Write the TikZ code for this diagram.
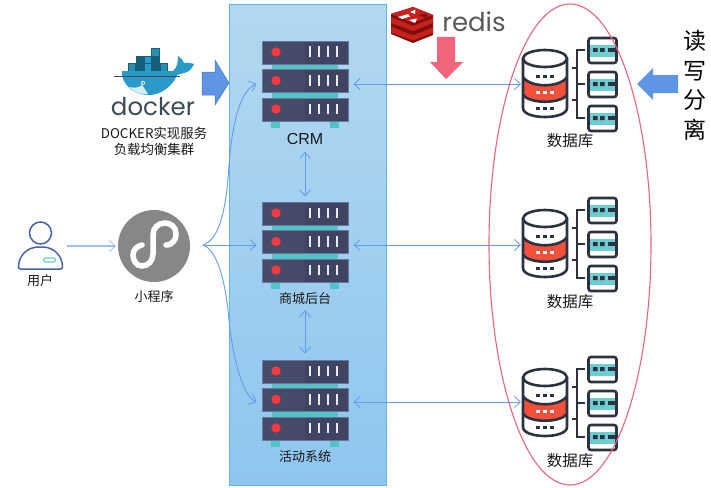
\documentclass[tikz,border=0pt]{standalone}
\usepackage{fontspec}
\setmainfont{Noto Sans CJK SC}
\newfontfamily\latinfont{Poppins}
\newfontfamily\uifont{Liberation Sans}
\usetikzlibrary{arrows.meta,shapes.geometric}
\definecolor{panelT}{HTML}{B2D8F1}
\definecolor{panelB}{HTML}{8FC6EE}
\definecolor{panelE}{HTML}{5CB6EC}
\definecolor{link}{HTML}{659BE8}
\definecolor{linkL}{HTML}{9DC0F2}
\definecolor{bigblue}{HTML}{5E95E4}
\definecolor{pinkred}{HTML}{F0647C}
\definecolor{ring}{HTML}{E9647F}
\definecolor{srvL}{HTML}{454B69}
\definecolor{srvR}{HTML}{3E4462}
\definecolor{srvE}{HTML}{66789C}
\definecolor{teal}{HTML}{50C4C8}
\definecolor{dotred}{HTML}{F23A40}
\definecolor{dbdark}{HTML}{2C3240}
\definecolor{dbred}{HTML}{F2503A}
\definecolor{dbteal}{HTML}{6CCDD3}
\definecolor{userc}{HTML}{4A62AE}
\definecolor{whale}{HTML}{2A9AC8}
\definecolor{whaleD}{HTML}{17607C}
\definecolor{whaleM}{HTML}{2B8DB0}
\definecolor{dockertxt}{HTML}{3C4C54}
\definecolor{redisr}{HTML}{C8201C}
\definecolor{redisd}{HTML}{7E100C}
\tikzset{
  x=1pt,y=-1pt,
  lbl/.style={inner sep=0pt,font=\fontsize{13}{16}\selectfont,text=black!90},
  conn/.style={draw=link,line width=.9pt,{Straight Barb[length=6pt,width=11pt,line width=.8pt]}-{Straight Barb[length=6pt,width=11pt,line width=.8pt]}},
  connone/.style={draw=link,line width=.9pt,-{Straight Barb[length=6pt,width=11pt,line width=.8pt]}},
  srvnode/.style={minimum width=87pt,minimum height=87pt,inner sep=0pt,outer sep=5pt},
  dbnode/.style={minimum width=46pt,minimum height=68pt,inner sep=0pt,outer sep=1pt},
  dbline/.style={draw=dbdark,line width=2.6pt},
  pics/server/.style={code={
    \fill[teal] (10,22) rectangle (76,29);
    \fill[teal] (10,51) rectangle (76,58);
    \fill[teal] (9,80) rectangle (18,87);
    \fill[teal] (68,80) rectangle (77,87);
    \foreach \yy in {0,28.5,57}{
      \fill[srvL] (0,\yy) rectangle (43,\yy+23);
      \fill[srvR] (43,\yy) rectangle (86.5,\yy+23);
      \draw[srvE,line width=.5pt] (0,\yy) rectangle (86.5,\yy+23);
      \fill[dotred] (14,\yy+11) circle (4.7);
      \foreach \xx in {48,57,66,75}{\fill[white!92!black] (\xx-1.4,\yy+5.5) rectangle (\xx+1.4,\yy+16);}
    }
  }},
  pics/database/.style={code={
    \fill[white] (1,21.5) -- (1,71) .. controls (1,83) and (45,83) .. (45,71) -- (45,21.5) -- cycle;
    \fill[dbred] (1,40) .. controls (8,51) and (38,51) .. (45,40) -- (45,58) .. controls (38,67) and (8,67) .. (1,58) -- cycle;
    \draw[dbline] (23,21.5) ellipse (22 and 8.5);
    \draw[dbline] (1,21.5) -- (1,71) .. controls (1,83) and (45,83) .. (45,71) -- (45,21.5);
    \draw[dbline] (1,40) .. controls (8,51) and (38,51) .. (45,40);
    \draw[dbline] (1,58) .. controls (8,67) and (38,67) .. (45,58);
    \foreach \xx in {16,23,30}{
      \fill[dbdark] (\xx-1.7,37.5) rectangle (\xx+1.7,41);
      \fill[white] (\xx-1.7,53.5) rectangle (\xx+1.7,57);
      \fill[dbdark] (\xx-1.7,69.5) rectangle (\xx+1.7,73);
    }
    \draw[dbdark,line width=2.2pt] (62.5,13) -- (55,13) -- (55,81) -- (62.5,81);
    \draw[dbdark,line width=2.2pt] (55,47) -- (62.5,47);
    \draw[dbdark,line width=2.2pt] (50,31) -- (55,31) (50,63) -- (55,63);
    \foreach \yy in {0,34,68}{
      \begin{scope}[shift={(0,\yy)}]
        \fill[dbteal] (67,8) rectangle (94,20);
        \draw[dbdark,line width=2.6pt,rounded corners=2.5pt] (66.5,1) rectangle (94.5,26);
        \fill[dbdark] (71,11.2) rectangle (75.5,15) (78,11.2) rectangle (82.5,15);
        \fill[dbdark] (86,11.2) rectangle (94,15);
      \end{scope}
    }
  }}
}
\begin{document}
\begin{tikzpicture}
\useasboundingbox (0,0) rectangle (711,487);
\fill[white] (0,0) rectangle (711,487);
% panel
\draw[draw=panelE,line width=.9pt,top color=panelT,bottom color=panelB] (229.5,4.5) rectangle (386.5,485);

% servers
\node[srvnode] (crm) at (305,84) {};
\node[srvnode] (mall) at (305,245) {};
\node[srvnode] (act) at (305,402) {};
\pic at (262,41) {server};
\pic at (262,202) {server};
\pic at (262,360) {server};
\node[lbl,font=\uifont\fontsize{16}{18}\selectfont] (crml) at (305,139) {CRM};
\node[lbl] (malll) at (305,299) {商城后台};
\node[lbl] (actl) at (305,457) {活动系统};

% databases
\node[dbnode] (db1) at (545,84) {};
\node[dbnode] (db2) at (545,245) {};
\node[dbnode] (db3) at (545,402) {};
\pic at (522,37) {database};
\pic at (522,197) {database};
\pic at (522,356) {database};
\node[lbl,font=\fontsize{15.5}{18}\selectfont] (db1l) at (570,141) {数据库};
\node[lbl,font=\fontsize{15.5}{18}\selectfont] (db2l) at (570,302) {数据库};
\node[lbl,font=\fontsize{15.5}{18}\selectfont] (db3l) at (570,461) {数据库};

% user
\node[circle,draw=userc,line width=1.5pt,minimum size=22pt,inner sep=0pt] (head) at (40.5,233) {};
\draw[userc,line width=1.5pt,rounded corners=2pt] (18.5,269) .. controls (18.5,255) and (28,247) .. (40.5,247) .. controls (53,247) and (62.5,255) .. (62.5,269) -- cycle;
\draw[dbteal,fill=white,line width=1.2pt,rounded corners=1.5pt] (43.5,258) rectangle (55.5,262);
\node[minimum width=46pt,minimum height=24pt,inner sep=0pt,outer sep=3pt] (user) at (41,246) {};
\node[lbl] (userl) at (40,281) {用户};

% mini program
\node[circle,fill=black!47,minimum size=72pt,inner sep=0pt,outer sep=2pt] (mini) at (154,246) {};
\draw[white,line width=5.5pt,line cap=round] (166,245) .. controls (173,245) and (176,239) .. (176,234) .. controls (176,227) and (171,223) .. (165,223) .. controls (158,223) and (153,228) .. (153,235) -- (153,254) .. controls (153,261) and (148,266) .. (142,266) .. controls (136,266) and (133,260) .. (133,255) .. controls (133,250) and (137,246) .. (142,245);
\node[lbl] (minil) at (154,297) {小程序};
\coordinate (hub) at (203,245);

% connectors
\draw[draw=linkL,line width=1.1pt,-{Straight Barb[length=6pt,width=11pt,line width=.8pt]}] (user) -- (mini);
\draw[connone] (hub) .. controls (218,240) and (226,215) .. (229,165) .. controls (232,125) and (240,90) .. (crm.west);
\draw[connone] (hub) -- (mall.west);
\draw[connone] (hub) .. controls (218,250) and (226,285) .. (229,320) .. controls (233,360) and (243,396) .. (act.west);
\draw[conn] (crm.east) -- (db1.west);
\draw[conn] (mall.east) -- (db2.west);
\draw[conn] (act.east) -- (db3.west);
\draw[conn] (crml.south) ++(0,7) -- (mall.north);
\draw[conn] (malll.south) ++(0,5) -- (act.north);

% read-write ring
\node[ellipse,draw=ring,line width=1.1pt,minimum width=162pt,minimum height=481pt,inner sep=0pt] (ringn) at (570,244.5) {};

% docker
\begin{scope}
  \foreach \xx/\cc in {128/whaleM,136/whaleD,144/whale,152/whaleD,160/whaleM}{\draw[whaleD,fill=\cc,line width=.7pt] (\xx,63.5) rectangle (\xx+7.5,71);}
  \foreach \xx/\cc in {136/whaleD,144/whale,152/whaleD}{\draw[whaleD,fill=\cc,line width=.7pt] (\xx,56) rectangle (\xx+7.5,63.5);}
  \draw[whaleD,fill=whaleM,line width=.7pt] (151.5,48.5) rectangle (159,56);
  \fill[whale] (122,71) -- (173,71) .. controls (177,68) and (178,62) .. (178,56) .. controls (181,58) and (183,60) .. (184,63) .. controls (187,62) and (190,63) .. (194,64) .. controls (192,69) and (189,72) .. (184,73) .. controls (181,74) and (179,74) .. (177,75) .. controls (173,86) and (160,96) .. (147,95) .. controls (133,94) and (121,84) .. (122,71) -- cycle;
  \fill[white!82!whale] (129,87) .. controls (134,88) and (139,88) .. (142,85) .. controls (144,88) and (146,91) .. (148,94) .. controls (141,95) and (134,92) .. (129,87) -- cycle;
  \fill[white] (143,83) circle (2);
  \fill[whaleD] (143,83) circle (1);
  \draw[dockertxt,line width=.7pt] (114,76) -- (180,76);
\end{scope}
\node[inner sep=0pt,text=dockertxt,font=\latinfont\fontsize{24.5}{28}\selectfont] (dockerl) at (153,107) {docker};
\node[lbl,align=center,font=\fontsize{13.4}{16}\selectfont] (dockert) at (154,141) {DOCKER实现服务\\负载均衡集群};
\fill[bigblue,draw=bigblue!80!black,line width=.5pt] (202,72) -- (215,72) -- (215,60) -- (229,83) -- (215,105) -- (215,95) -- (202,95) -- cycle;

% redis
\fill[redisd] (391,14) -- (413,7) -- (433,15) -- (433,35) -- (413,43) -- (391,34) -- cycle;
\fill[redisr] (391,14) -- (413,7) -- (433,15) -- (413,23) -- cycle;
\foreach \oo in {3,12.5}{
  \fill[redisr] (391,14+\oo) -- (413,23+\oo) -- (433,15+\oo) -- (433,20+\oo) -- (413,28+\oo) -- (391,20+\oo) -- cycle;
}
\fill[white] (398,17) -- (408,14) -- (410,16.5) -- (402,19) -- cycle;
\fill[white] (409,20) -- (417,18.5) -- (415,23) -- cycle;
\fill[white] (410,12) -- (415.5,9.5) -- (415,14) -- cycle;
\fill[redisd] (418,15) -- (427,13.5) -- (427,18) -- cycle;
\node[inner sep=0pt,text=black!65,font=\latinfont\fontsize{26}{28}\selectfont] (redisl) at (474,22) {redis};
\fill[pinkred] (437,37) -- (455,37) -- (455,62) -- (463,62) -- (446,79) -- (430,62) -- (437,62) -- cycle;

% read/write split
\fill[bigblue] (678,75) -- (653,75) -- (653,68) -- (637,84) -- (653,100) -- (653,93) -- (678,93) -- cycle;
\node[inner sep=0pt,align=center,font=\fontsize{23}{29.5}\selectfont] (rw) at (695,85) {读\\写\\分\\离};
\end{tikzpicture}
\end{document}
